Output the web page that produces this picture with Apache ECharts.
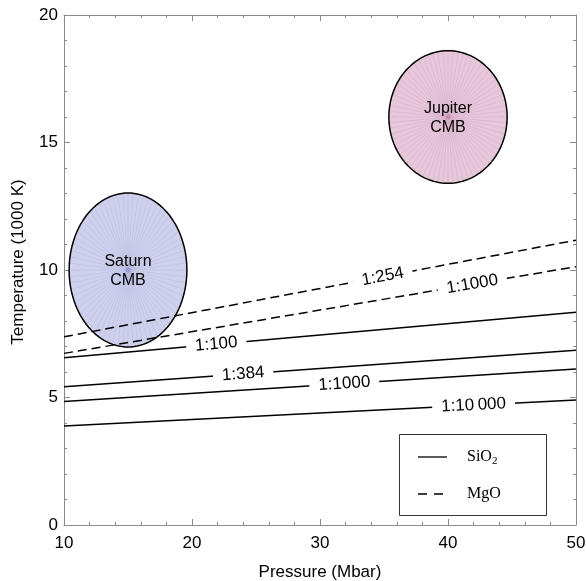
<!DOCTYPE html>
<html>
<head>
<meta charset="utf-8">
<script src="https://cdn.jsdelivr.net/npm/echarts@6/dist/echarts.min.js"></script>
<style>html,body{margin:0;padding:0;background:#fff}#c{width:586px;height:581px}</style>
</head>
<body>
<div id="c"></div>
<script>
// ---- data ----
const pressureEnds = [10, 50];
// SiO2 (solid) lines: temperature (1000 K) at P=10 and P=50
const sio2Names = ['1:100', '1:384', '1:1000', '1:10\u2009000'];
const sio2Start = [6.56, 5.42, 4.84, 3.88];
const sio2End   = [8.34, 6.85, 6.12, 4.90];
const sio2LabelP = [21.9, 24.0, 31.9, 42.0];
// MgO (dashed) lines
const mgoNames = ['1:254', '1:1000'];
const mgoStart = [7.38, 6.73];
const mgoEnd   = [11.17, 10.13];
const mgoLabelP = [34.9, 41.9];
// CMB conditions: [pressure, temperature, halfwidth P, halfheight T]
const cmbNames = ['Saturn\nCMB', 'Jupiter\nCMB'];
const cmbCenterP = [15, 40];
const cmbCenterT = [10, 16];
const cmbRadP = [4.6, 4.62];
const cmbRadT = [3.02, 2.6];
const cmbFill = ['#cfd1ec', '#e6c8da'];
const cmbSpoke = ['#b3b7de', '#d3a9c3'];
const xTicks = {min: 10, max: 50, interval: 10};
const yTicks = {min: 0, max: 20, interval: 5};

const FONT = '"Liberation Sans", Arial, Helvetica, sans-serif';
const SERIF = '"Liberation Serif", "Times New Roman", serif';
const chart = echarts.init(document.getElementById('c'), null, {renderer: 'canvas'});

const series = [];
sio2Names.forEach((n, i) => {
  series.push({type: 'line', name: 'SiO2 ' + n, symbol: 'none', silent: true, z: 3,
    data: [[pressureEnds[0], sio2Start[i]], [pressureEnds[1], sio2End[i]]],
    lineStyle: {color: '#000', width: 1.5, type: 'solid'}});
});
mgoNames.forEach((n, i) => {
  series.push({type: 'line', name: 'MgO ' + n, symbol: 'none', silent: true, z: 3,
    data: [[pressureEnds[0], mgoStart[i]], [pressureEnds[1], mgoEnd[i]]],
    lineStyle: {color: '#000', width: 1.5, type: [9, 5]}});
});

// ellipses
series.push({
  type: 'custom', silent: true, z: 2,
  data: cmbNames.map((n, i) => [cmbCenterP[i], cmbCenterT[i], cmbRadP[i], cmbRadT[i], i]),
  renderItem: function (params, api) {
    const c = api.coord([api.value(0), api.value(1)]);
    const sz = api.size([api.value(2), api.value(3)]);
    const idx = api.value(4);
    const rx = sz[0], ry = sz[1];
    const pts = [];
    const N = 120;
    for (let k = 0; k < N; k++) {
      const a = 2 * Math.PI * k / N;
      pts.push([c[0] + rx * Math.cos(a), c[1] + ry * Math.sin(a)]);
    }
    const children = [{type: 'polygon', shape: {points: pts}, style: {fill: cmbFill[idx], stroke: null}}];
    const S = 72;
    for (let k = 0; k < S; k++) {
      const a = 2 * Math.PI * k / S;
      children.push({type: 'line', shape: {x1: c[0], y1: c[1], x2: c[0] + rx * Math.cos(a), y2: c[1] + ry * Math.sin(a)},
        style: {stroke: cmbSpoke[idx], lineWidth: 0.6, opacity: 0.8}});
    }
    children.push({type: 'circle', shape: {cx: c[0], cy: c[1], r: 2.5}, style: {fill: idx === 0 ? '#8f93d0' : '#c47fa6', opacity: 0.7}});
    children.push({type: 'polygon', shape: {points: pts}, style: {fill: null, stroke: '#000', lineWidth: 1.5}});
    children.push({type: 'text', x: c[0], y: c[1] + 1, style: {text: cmbNames[idx], font: '16px ' + FONT, fill: '#000', align: 'center', verticalAlign: 'middle', lineHeight: 19}});
    return {type: 'group', children: children};
  }
});

// inline line labels
const labelData = [];
sio2Names.forEach((n, i) => labelData.push([sio2LabelP[i], sio2Start[i], sio2End[i], 0, i]));
mgoNames.forEach((n, i) => labelData.push([mgoLabelP[i], mgoStart[i], mgoEnd[i], 1, i]));
series.push({
  type: 'custom', silent: true, z: 5,
  data: labelData,
  renderItem: function (params, api) {
    const p = api.value(0), t0 = api.value(1), t1 = api.value(2);
    const kind = api.value(3), i = api.value(4);
    const t = t0 + (t1 - t0) * (p - pressureEnds[0]) / (pressureEnds[1] - pressureEnds[0]);
    const a0 = api.coord([pressureEnds[0], t0]);
    const a1 = api.coord([pressureEnds[1], t1]);
    const ang = Math.atan2(a0[1] - a1[1], a1[0] - a0[0]);
    const pos = api.coord([p, t]);
    const txt = kind === 0 ? sio2Names[i] : mgoNames[i];
    return {type: 'text', x: pos[0], y: pos[1], rotation: ang,
      style: {text: txt, font: '17px ' + FONT, fill: '#000', align: 'center', verticalAlign: 'middle',
        backgroundColor: '#fff', padding: [3, 9, 3, 9]}};
  }
});

const axisCol = '#8a8a8a';
function mkX(pos, labels) {
  return {type: 'value', position: pos, min: xTicks.min, max: xTicks.max, interval: xTicks.interval,
    name: labels ? 'Pressure (Mbar)' : '', nameLocation: 'middle', nameGap: 39,
    nameTextStyle: {fontFamily: FONT, fontSize: 17, color: '#000'},
    axisLine: {show: true, onZero: false, lineStyle: {color: axisCol, width: 1}},
    axisTick: {show: true, inside: true, length: 6, lineStyle: {color: axisCol}},
    minorTick: {show: true, splitNumber: 5, length: 3, lineStyle: {color: axisCol}},
    axisLabel: {show: labels, fontFamily: FONT, fontSize: 17, color: '#000', margin: 10},
    splitLine: {show: false}, minorSplitLine: {show: false}};
}
function mkY(pos, labels) {
  return {type: 'value', position: pos, min: yTicks.min, max: yTicks.max, interval: yTicks.interval,
    axisLine: {show: true, onZero: false, lineStyle: {color: axisCol, width: 1}},
    axisTick: {show: true, inside: true, length: 6, lineStyle: {color: axisCol}},
    minorTick: {show: true, splitNumber: 5, length: 3, lineStyle: {color: axisCol}},
    axisLabel: {show: labels, fontFamily: FONT, fontSize: 17, color: '#000', margin: 6},
    splitLine: {show: false}, minorSplitLine: {show: false}};
}

const option = {
  animation: false,
  backgroundColor: '#fff',
  grid: {left: 64, right: 10, top: 15, bottom: 56, containLabel: false, outerBoundsMode: 'none'},
  xAxis: [mkX('bottom', true), mkX('top', false)],
  yAxis: [mkY('left', true), mkY('right', false)],
  series: series,
  graphic: [
    {type: 'text', x: 18, y: 262, rotation: Math.PI / 2, z: 11, style: {text: 'Temperature (1000 K)',
      font: '17px ' + FONT, fill: '#000', align: 'center', verticalAlign: 'middle'}},
    {type: 'rect', shape: {x: 399.5, y: 434.5, width: 147, height: 81}, style: {fill: '#fff', stroke: '#333', lineWidth: 1}, z: 10},
    {type: 'line', shape: {x1: 418, y1: 457, x2: 447, y2: 457}, style: {stroke: '#000', lineWidth: 1.3}, z: 11},
    {type: 'line', shape: {x1: 418, y1: 494, x2: 447, y2: 494}, style: {stroke: '#000', lineWidth: 1.3, lineDash: [9, 7]}, z: 11},
    {type: 'text', x: 467, y: 457, z: 11, style: {text: '{a|SiO}{s|2}', verticalAlign: 'middle',
      rich: {a: {fontFamily: SERIF, fontSize: 16, fill: '#000'},
             s: {fontFamily: SERIF, fontSize: 11, fill: '#000', padding: [9, 0, 0, 0]}}}},
    {type: 'text', x: 467, y: 494, z: 11, style: {text: 'MgO', verticalAlign: 'middle',
      font: '16px ' + SERIF, fill: '#000'}}
  ]
};
chart.setOption(option);
</script>
</body>
</html>
